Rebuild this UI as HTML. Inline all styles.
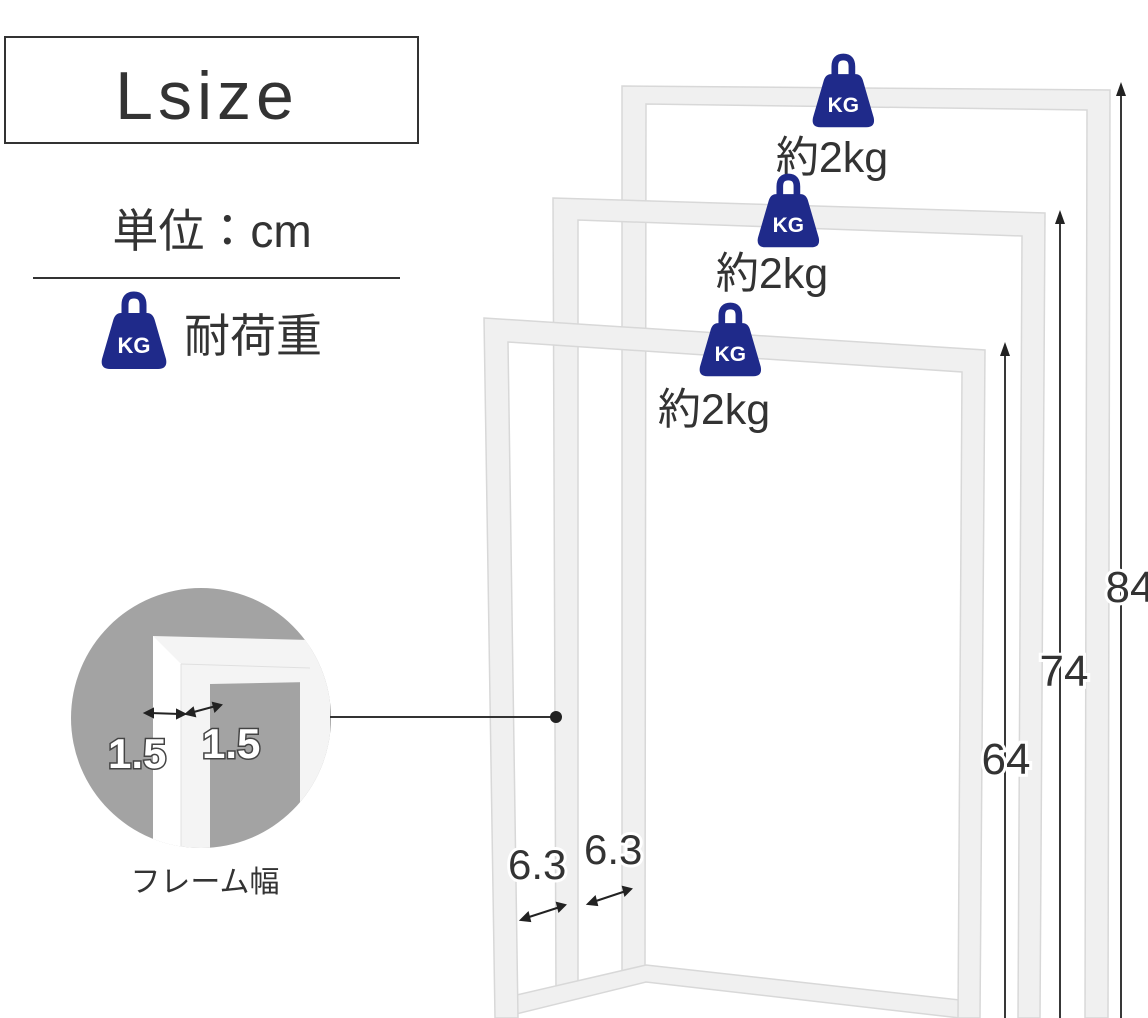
<!DOCTYPE html>
<html><head><meta charset="utf-8"><style>
html,body{margin:0;padding:0;background:#fff;}
svg{display:block;}
text{font-family:"Liberation Sans","Noto Sans CJK JP",sans-serif;}
</style></head><body>
<svg width="1148" height="1018" viewBox="0 0 1148 1018" xmlns="http://www.w3.org/2000/svg">
<defs>
<g id="kg">
<path d="M24,22 L24,10 Q24,0 33,0 Q42,0 42,10 L42,22" fill="none" stroke="#1f2a8a" stroke-width="7"/>
<path d="M20,18 L46,18 Q52,18 54,26 L65,64 Q67,74 57,74 L9,74 Q-1,74 1,64 L12,26 Q14,18 20,18 Z" fill="#1f2a8a"/>
<text x="33" y="58" font-size="22" font-weight="bold" fill="#fff" text-anchor="middle">KG</text>
</g>
</defs>
<rect width="1148" height="1018" fill="#fff"/>
<rect x="5" y="37" width="413" height="106" fill="none" stroke="#333" stroke-width="2"/>
<text x="207" y="119" font-size="68" fill="#333" text-anchor="middle" letter-spacing="5">Lsize</text>
<text x="212" y="247" font-size="46" fill="#333" text-anchor="middle">単位：cm</text>
<line x1="33" y1="278" x2="400" y2="278" stroke="#333" stroke-width="2"/>
<use href="#kg" transform="translate(101,295) scale(1)"/>
<text x="184" y="352" font-size="46" fill="#333">耐荷重</text>

<g fill="#f0f0f0" stroke="#d8d8d8" stroke-width="1.5">
<path d="M622,86 L1110,90 L1108,1018 L1085,1018 L1087,110 L646,104 L645,975 L622,980 Z"/>
<path d="M553,198 L1045,213 L1040,1018 L1018,1018 L1022,236 L578,220 L578,992 L556,996 Z"/>
<path d="M495,1000 L646,965 L960,1000 L960,1018 L646,982 L500,1018 Z"/>
<path d="M484,318 L985,350 L980,1018 L958,1018 L962,372 L508,342 L518,1018 L495,1018 Z"/>
</g>
<g stroke="#222" stroke-width="1.8" fill="#222">
<line x1="1005" y1="350" x2="1005" y2="1018"/>
<path d="M1000,356 L1005,342 L1010,356 Z" stroke="none"/>
<line x1="1060" y1="218" x2="1060" y2="1018"/>
<path d="M1055,224 L1060,210 L1065,224 Z" stroke="none"/>
<line x1="1121" y1="90" x2="1121" y2="1018"/>
<path d="M1116,96 L1121,82 L1126,96 Z" stroke="none"/>
</g>
<g font-size="44" fill="#333" text-anchor="middle" stroke="#fff" stroke-width="6" paint-order="stroke">
<text x="1006" y="774">64</text>
<text x="1064" y="686">74</text>
<text x="1130" y="602">84</text>
</g>

<use href="#kg" transform="translate(812,57) scale(0.95)"/>
<text x="832" y="172" font-size="43" fill="#333" text-anchor="middle">約2kg</text>
<use href="#kg" transform="translate(757,177) scale(0.95)"/>
<text x="772" y="288" font-size="43" fill="#333" text-anchor="middle">約2kg</text>
<use href="#kg" transform="translate(699,306) scale(0.95)"/>
<text x="714" y="424" font-size="43" fill="#333" text-anchor="middle">約2kg</text>

<clipPath id="cc"><circle cx="201" cy="718" r="130"/></clipPath>
<circle cx="201" cy="718" r="130" fill="#a3a3a3"/>
<g clip-path="url(#cc)">
<path d="M300,640 L330,640 L330,860 L300,860 Z" fill="#f4f4f4"/>
<path d="M153,636 L310,640 L310,682 L210,684 L210,860 L153,860 Z" fill="#f4f4f4"/>
<path d="M153,636 L181,664 L181,860 L153,860 Z" fill="#ffffff"/>
<line x1="181" y1="664" x2="181" y2="860" stroke="#e0e0e0"/>
<line x1="181" y1="664" x2="310" y2="668" stroke="#e0e0e0"/>
</g>
<g stroke="#222" stroke-width="2" fill="#222">
<line x1="150" y1="713" x2="180" y2="714"/>
<path d="M145,713 L153,709 L153,717 Z"/><path d="M185,714 L177,710 L177,718 Z"/>
<line x1="190" y1="713" x2="216" y2="706"/>
<path d="M186,714 L193,708 L195,716 Z"/><path d="M221,705 L213,703 L215,711 Z"/>
</g>
<g font-size="42" font-weight="bold" fill="#fff" stroke="#444" stroke-width="3" paint-order="stroke">
<text x="108" y="768">1.5</text>
<text x="202" y="758">1.5</text>
</g>
<text x="205" y="892" font-size="30" fill="#333" text-anchor="middle">フレーム幅</text>
<line x1="330" y1="717" x2="556" y2="717" stroke="#333" stroke-width="2"/>
<circle cx="556" cy="717" r="6" fill="#222"/>

<g font-size="42" fill="#333" stroke="#fff" stroke-width="6" paint-order="stroke">
<text x="508" y="879">6.3</text>
<text x="584" y="864">6.3</text>
</g>
<g stroke="#222" stroke-width="2" fill="#222">
<line x1="526" y1="918" x2="560" y2="907"/>
<path d="M521,920 L528,913 L530,921 Z"/><path d="M565,905 L557,903 L559,911 Z"/>
<line x1="593" y1="902" x2="626" y2="891"/>
<path d="M588,904 L595,897 L597,905 Z"/><path d="M631,889 L623,887 L625,895 Z"/>
</g>
</svg>
</body></html>
